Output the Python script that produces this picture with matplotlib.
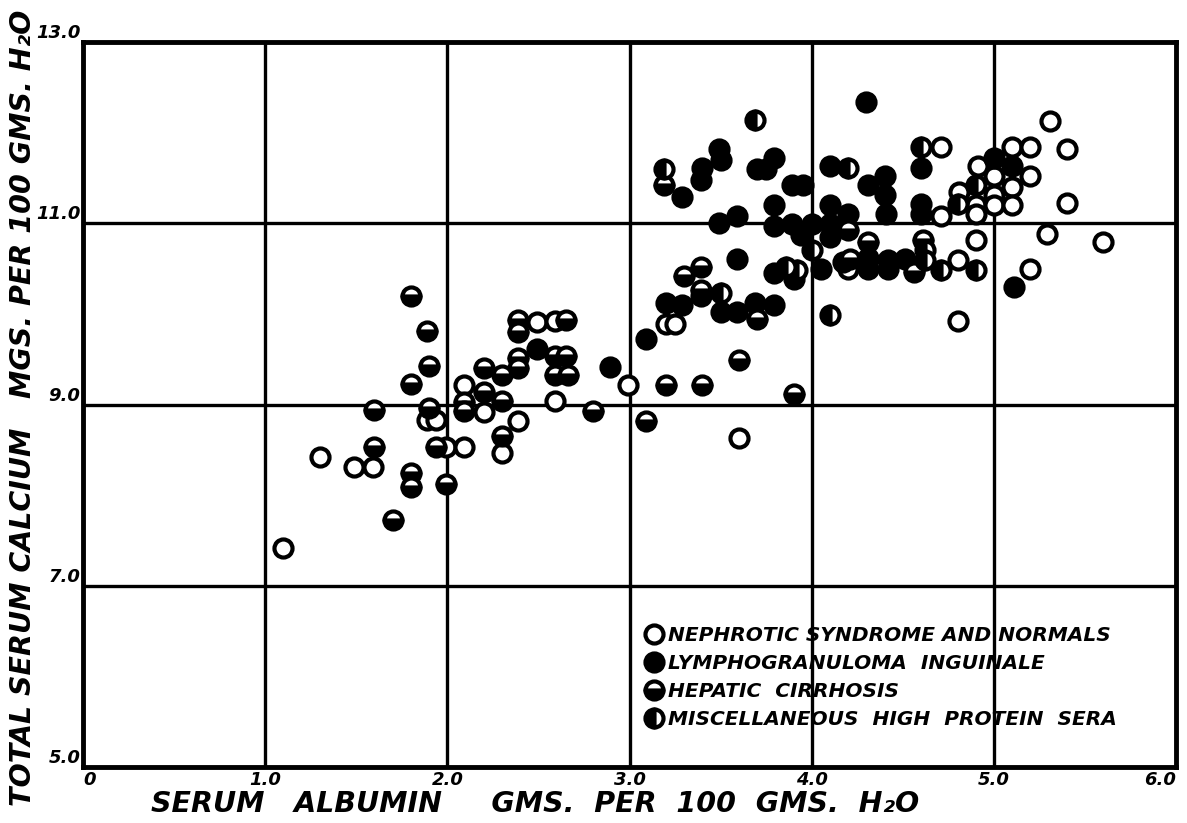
import matplotlib
matplotlib.use("Agg")
import matplotlib.pyplot as plt
from matplotlib.lines import Line2D

# ---- data (serum albumin g/100g H2O, total serum calcium mg/100g H2O) ----
open_x = [1.10, 1.30, 1.49, 1.59, 1.89, 1.94, 1.99, 2.09, 2.09, 2.20, 2.30, 2.39,
          2.49, 2.59, 2.59, 2.99, 3.20, 3.25, 3.60,
          5.31, 4.71, 5.10, 5.20, 5.40, 4.91, 5.00, 5.20, 5.10, 5.00, 4.81, 4.90,
          4.90, 5.00, 5.10, 5.40, 4.71, 5.29, 5.60, 4.90, 4.80, 5.20, 4.80, 4.20]
open_y = [7.42, 8.42, 8.31, 8.31, 8.83, 8.83, 8.53, 8.53, 9.21, 8.92, 8.47, 8.82,
          9.91, 9.92, 9.04, 9.22, 9.89, 9.89, 8.63,
          12.13, 11.84, 11.84, 11.84, 11.82, 11.63, 11.52, 11.52, 11.40, 11.31, 11.35, 11.20,
          11.10, 11.20, 11.20, 11.22, 11.08, 10.88, 10.79, 10.81, 10.59, 10.50, 9.92, 10.50]

lymph_x = [2.49, 2.89, 3.09, 4.30, 3.29, 3.40, 3.39, 3.49, 3.50, 3.70, 3.79, 3.75,
           3.89, 3.95, 4.10, 4.31, 4.40, 4.40, 4.41, 3.49, 3.59, 3.79, 3.79, 3.89,
           3.94, 4.00, 4.10, 4.10, 4.20, 4.10, 4.05, 4.31, 4.31, 4.42, 3.79, 3.90,
           3.59, 3.20, 3.29, 3.39, 3.50, 3.59, 3.69, 3.79, 4.60, 5.00, 5.10, 4.60,
           4.60, 4.51, 4.42, 5.11, 4.17]
lymph_y = [9.61, 9.41, 9.72, 12.34, 11.29, 11.61, 11.48, 11.82, 11.70, 11.60, 11.72, 11.60,
           11.42, 11.42, 11.63, 11.42, 11.52, 11.31, 11.10, 11.00, 11.08, 11.20, 10.97, 10.99,
           10.87, 10.99, 11.20, 10.99, 11.10, 10.85, 10.50, 10.62, 10.50, 10.50, 10.45, 10.38,
           10.61, 10.12, 10.10, 10.20, 10.02, 10.02, 10.12, 10.10, 11.61, 11.72, 11.63, 11.21,
           11.10, 10.61, 10.59, 10.30, 10.57]

hep_x = [1.80, 1.89, 1.90, 1.80, 1.60, 1.90, 1.60, 1.80, 1.80, 1.70, 1.99, 1.94,
         2.09, 2.09, 2.20, 2.20, 2.30, 2.30, 2.30, 2.39, 2.39, 2.39, 2.39, 2.65,
         2.59, 2.65, 2.59, 2.66, 2.80, 3.20, 3.40, 3.60, 3.90, 3.09, 3.70, 3.30,
         3.39, 3.39, 3.19, 4.20, 4.31, 4.21, 4.56, 4.61]
hep_y = [10.20, 9.81, 9.42, 9.23, 8.94, 8.96, 8.53, 8.24, 8.09, 7.73, 8.12, 8.53,
         9.03, 8.93, 9.40, 9.14, 9.33, 9.04, 8.65, 9.93, 9.80, 9.51, 9.40, 9.93,
         9.53, 9.53, 9.33, 9.33, 8.93, 9.21, 9.21, 9.49, 9.12, 8.82, 9.94, 10.42,
         10.52, 10.26, 11.42, 10.92, 10.79, 10.61, 10.46, 10.81]

misc_x = [3.69, 3.19, 4.20, 4.60, 4.90, 4.80, 4.62, 4.62, 4.71, 4.90, 4.10, 4.00,
          3.86, 3.92, 3.50]
misc_y = [12.14, 11.60, 11.61, 11.84, 11.42, 11.21, 10.70, 10.59, 10.48, 10.48, 9.99, 10.70,
          10.52, 10.48, 10.23]

x_ticks = [0, 1, 2, 3, 4, 5, 6]
x_tick_labels = ["0", "1.0", "2.0", "3.0", "4.0", "5.0", "6.0"]
y_ticks = [5, 7, 9, 11, 13]
y_tick_labels = ["5.0", "7.0", "9.0", "11.0", "13.0"]
legend_labels = ["NEPHROTIC SYNDROME AND NORMALS", "LYMPHOGRANULOMA  INGUINALE",
                 "HEPATIC  CIRRHOSIS", "MISCELLANEOUS  HIGH  PROTEIN  SERA"]

FONT = dict(family="DejaVu Sans", weight="bold", style="oblique")

fig = plt.figure(figsize=(11.87, 8.23), dpi=100)
ax = fig.add_axes([0.0699, 0.068, 0.921, 0.881])
ax.set_xlim(0, 6)
ax.set_ylim(5, 13)

for xv in x_ticks[1:-1]:
    ax.axvline(xv, color="black", lw=2.4, zorder=1)
for yv in y_ticks[1:-1]:
    ax.axhline(yv, color="black", lw=2.4, zorder=1)

ms, mew = 13, 3.0
common = dict(ls="none", marker="o", ms=ms, mew=mew, mec="black", zorder=3)
ax.plot(open_x, open_y, mfc="white", **common)
ax.plot(lymph_x, lymph_y, mfc="black", **common)
ax.plot(hep_x, hep_y, fillstyle="bottom", mfc="black", markerfacecoloralt="white", **common)
ax.plot(misc_x, misc_y, fillstyle="left", mfc="black", markerfacecoloralt="white", **common)

for s in ax.spines.values():
    s.set_linewidth(3.5)
ax.set_xticks(x_ticks)
ax.set_yticks(y_ticks)
ax.tick_params(length=0, pad=3)
ax.set_xticklabels(x_tick_labels, fontsize=13, **FONT)
ax.set_yticklabels(y_tick_labels, fontsize=13, va="bottom", **FONT)
ax.tick_params(axis="y", pad=2)
xl = ax.get_xticklabels()
xl[0].set_horizontalalignment("left")
xl[-1].set_horizontalalignment("right")

ax.set_xlabel("SERUM   ALBUMIN     GMS.  PER  100  GMS.  H\u2082O", fontsize=20.5,
              labelpad=2, **FONT)
ax.xaxis.set_label_coords(0.414, -0.031)
ax.xaxis.label.set_verticalalignment("top")
ax.set_ylabel("TOTAL SERUM CALCIUM   MGS. PER 100 GMS. H\u2082O", fontsize=20.5,
              **FONT)
ax.yaxis.set_label_coords(-0.042, 0.495)

handles = [
    Line2D([], [], mfc="white", **common),
    Line2D([], [], mfc="black", **common),
    Line2D([], [], fillstyle="bottom", mfc="black", markerfacecoloralt="white", **common),
    Line2D([], [], fillstyle="left", mfc="black", markerfacecoloralt="white", **common),
]
leg = ax.legend(handles, legend_labels, loc="lower left", bbox_to_anchor=(0.50, 0.027),
                frameon=False, handlelength=0.6, handletextpad=0.4, labelspacing=0.45,
                prop=dict(size=14.5, **FONT))

fig.savefig("out.png", dpi=100, facecolor="white")
